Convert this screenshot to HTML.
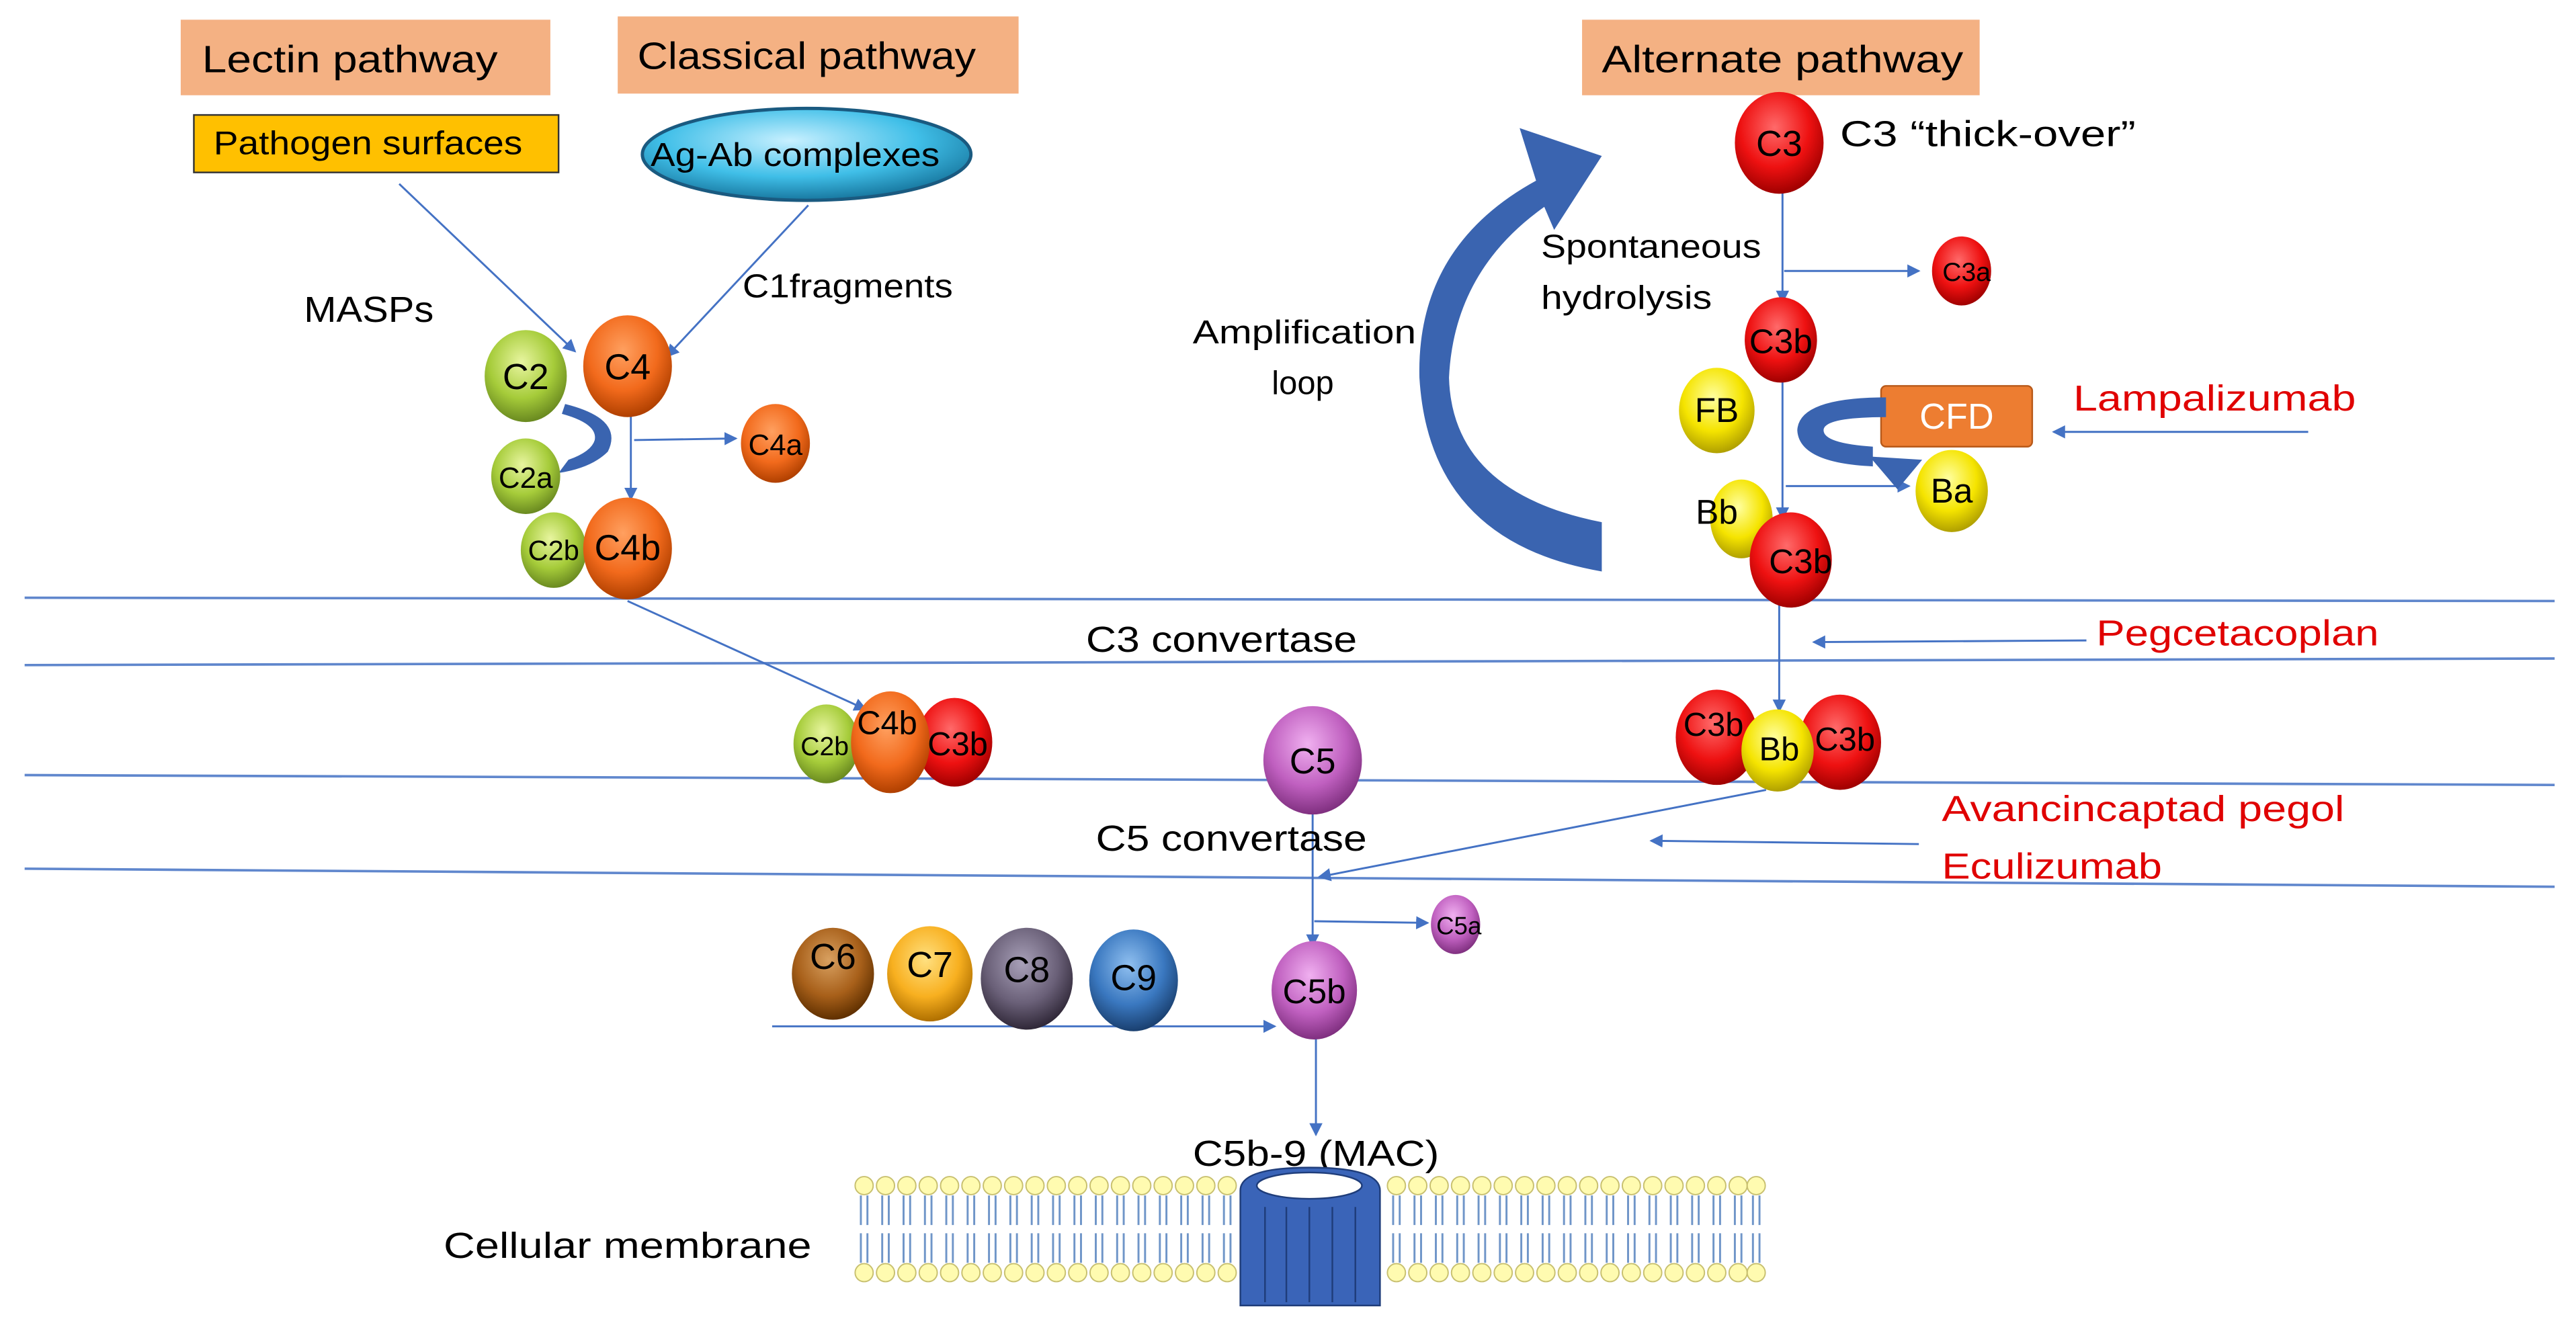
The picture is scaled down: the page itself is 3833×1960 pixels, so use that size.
<!DOCTYPE html>
<html><head><meta charset="utf-8"><style>
html,body{margin:0;padding:0;background:#fff;}
svg{display:block;}
text{font-family:"Liberation Sans Narrow","Liberation Sans",sans-serif;}
</style></head><body>
<svg width="3833" height="1960" viewBox="0 0 1568 802" preserveAspectRatio="none" xmlns="http://www.w3.org/2000/svg">
<defs>
<marker id="ah" markerWidth="8" markerHeight="8" refX="7" refY="4" orient="auto" markerUnits="userSpaceOnUse"><path d="M0,0 L8,4 L0,8 Z" fill="#4472c4"/></marker>
<radialGradient id="gR" cx="45%" cy="35%" r="65%"><stop offset="0" stop-color="#ff6a6a"/><stop offset="0.6" stop-color="#ee1111"/><stop offset="1" stop-color="#a00000"/></radialGradient>
<radialGradient id="gO" cx="45%" cy="35%" r="65%"><stop offset="0" stop-color="#ffa060"/><stop offset="0.6" stop-color="#f26a1c"/><stop offset="1" stop-color="#b04000"/></radialGradient>
<radialGradient id="gG" cx="45%" cy="35%" r="65%"><stop offset="0" stop-color="#e8f5a0"/><stop offset="0.6" stop-color="#a6cc3a"/><stop offset="1" stop-color="#6a8a20"/></radialGradient>
<radialGradient id="gY" cx="45%" cy="35%" r="65%"><stop offset="0" stop-color="#ffffa0"/><stop offset="0.6" stop-color="#f5e400"/><stop offset="1" stop-color="#b0a000"/></radialGradient>
<radialGradient id="gP" cx="45%" cy="35%" r="65%"><stop offset="0" stop-color="#f0b0f0"/><stop offset="0.6" stop-color="#c060c0"/><stop offset="1" stop-color="#803080"/></radialGradient>
<radialGradient id="gBr" cx="45%" cy="35%" r="65%"><stop offset="0" stop-color="#d8a060"/><stop offset="0.6" stop-color="#a8601a"/><stop offset="1" stop-color="#603000"/></radialGradient>
<radialGradient id="gOY" cx="45%" cy="35%" r="65%"><stop offset="0" stop-color="#ffe080"/><stop offset="0.6" stop-color="#f8b020"/><stop offset="1" stop-color="#b07000"/></radialGradient>
<radialGradient id="gGr" cx="45%" cy="35%" r="65%"><stop offset="0" stop-color="#a8a0b8"/><stop offset="0.6" stop-color="#6a6078"/><stop offset="1" stop-color="#302838"/></radialGradient>
<radialGradient id="gB" cx="45%" cy="35%" r="65%"><stop offset="0" stop-color="#90c0f0"/><stop offset="0.6" stop-color="#3a78c0"/><stop offset="1" stop-color="#1a4070"/></radialGradient>
<radialGradient id="gC" cx="45%" cy="35%" r="65%"><stop offset="0" stop-color="#c8f0ff"/><stop offset="0.6" stop-color="#40bfe8"/><stop offset="1" stop-color="#1878a0"/></radialGradient>
</defs>

<rect x="110" y="12" width="225" height="46" fill="#f4b183"/>
<text x="123" y="44" font-size="23" textLength="180" lengthAdjust="spacingAndGlyphs">Lectin pathway</text>
<rect x="376" y="10" width="244" height="47" fill="#f4b183"/>
<text x="388" y="42" font-size="23" textLength="206" lengthAdjust="spacingAndGlyphs">Classical pathway</text>
<rect x="963" y="12" width="242" height="46" fill="#f4b183"/>
<text x="975" y="44" font-size="23" textLength="220" lengthAdjust="spacingAndGlyphs">Alternate pathway</text>

<rect x="118" y="70" width="222" height="35" fill="#ffc000" stroke="#333" stroke-width="1"/>
<text x="130" y="94" font-size="20" textLength="188" lengthAdjust="spacingAndGlyphs">Pathogen surfaces</text>
<ellipse cx="491" cy="94" rx="100" ry="28" fill="url(#gC)" stroke="#1a5a80" stroke-width="2"/>
<text x="396" y="101" font-size="20" textLength="176" lengthAdjust="spacingAndGlyphs">Ag-Ab complexes</text>

<g stroke="#4472c4" stroke-width="1.2" fill="none">
<line x1="243" y1="112" x2="350" y2="214" marker-end="url(#ah)"/>
<line x1="492" y1="125" x2="406" y2="217" marker-end="url(#ah)"/>
<line x1="384" y1="248" x2="384" y2="304" marker-end="url(#ah)"/>
<line x1="386" y1="268" x2="448" y2="267" marker-end="url(#ah)"/>
<line x1="382" y1="366" x2="527" y2="432" marker-end="url(#ah)"/>
<line x1="1085" y1="117" x2="1085" y2="184" marker-end="url(#ah)"/>
<line x1="1086" y1="165" x2="1168" y2="165" marker-end="url(#ah)"/>
<line x1="1085" y1="230" x2="1085" y2="316" marker-end="url(#ah)"/>
<line x1="1087" y1="296" x2="1162" y2="296" marker-end="url(#ah)"/>
<line x1="1405" y1="263" x2="1250" y2="263" marker-end="url(#ah)"/>
<line x1="1083" y1="367" x2="1083" y2="433" marker-end="url(#ah)"/>
<line x1="1270" y1="390" x2="1104" y2="391" marker-end="url(#ah)"/>
<line x1="1168" y1="514" x2="1005" y2="512" marker-end="url(#ah)"/>
<line x1="1075" y1="481" x2="803" y2="534" marker-end="url(#ah)"/>
<line x1="799" y1="495" x2="799" y2="576" marker-end="url(#ah)"/>
<line x1="800" y1="561" x2="869" y2="562" marker-end="url(#ah)"/>
<line x1="470" y1="625" x2="776" y2="625" marker-end="url(#ah)"/>
<line x1="801" y1="632" x2="801" y2="691" marker-end="url(#ah)"/>
</g>
<g stroke="#4472c4" stroke-width="1.5" fill="none" opacity="0.85">
<line x1="15" y1="364" x2="1555" y2="366"/>
<line x1="15" y1="405" x2="1555" y2="401"/>
<line x1="15" y1="472" x2="1555" y2="478"/>
<line x1="15" y1="529" x2="1555" y2="540"/>
</g>

<text x="185" y="196" font-size="22" textLength="79" lengthAdjust="spacingAndGlyphs">MASPs</text>
<text x="452" y="181" font-size="20" textLength="128" lengthAdjust="spacingAndGlyphs">C1fragments</text>

<ellipse cx="320" cy="229" rx="25" ry="28" fill="url(#gG)"/>
<text x="320" y="237" font-size="22" text-anchor="middle">C2</text>
<ellipse cx="382" cy="223" rx="27" ry="31" fill="url(#gO)"/>
<text x="382" y="231" font-size="22" text-anchor="middle">C4</text>
<path d="M344,246 Q380,255 370,275 Q360,285 340,288 L346,280 Q360,275 362,268 Q364,258 342,252 Z" fill="#3a64b0"/>
<ellipse cx="320" cy="290" rx="21" ry="23" fill="url(#gG)"/>
<text x="320" y="297" font-size="18" text-anchor="middle">C2a</text>
<ellipse cx="472" cy="270" rx="21" ry="24" fill="url(#gO)"/>
<text x="472" y="277" font-size="18" text-anchor="middle">C4a</text>
<ellipse cx="337" cy="335" rx="20" ry="23" fill="url(#gG)"/>
<ellipse cx="382" cy="334" rx="27" ry="31" fill="url(#gO)"/>
<text x="337" y="341" font-size="17" text-anchor="middle">C2b</text>
<text x="382" y="341" font-size="22" text-anchor="middle">C4b</text>

<text x="661" y="397" font-size="22" textLength="165" lengthAdjust="spacingAndGlyphs">C3 convertase</text>
<text x="667" y="518" font-size="22" textLength="165" lengthAdjust="spacingAndGlyphs">C5 convertase</text>

<ellipse cx="503" cy="453" rx="20" ry="24" fill="url(#gG)"/>
<ellipse cx="581" cy="452" rx="23" ry="27" fill="url(#gR)"/>
<ellipse cx="542" cy="452" rx="24" ry="31" fill="url(#gO)"/>
<text x="502" y="460" font-size="16" text-anchor="middle">C2b</text>
<text x="540" y="447" font-size="20" text-anchor="middle">C4b</text>
<text x="583" y="460" font-size="20" text-anchor="middle">C3b</text>

<ellipse cx="799" cy="463" rx="30" ry="33" fill="url(#gP)"/>
<text x="799" y="471" font-size="22" text-anchor="middle">C5</text>

<ellipse cx="1045" cy="449" rx="25" ry="29" fill="url(#gR)"/>
<ellipse cx="1120" cy="452" rx="25" ry="29" fill="url(#gR)"/>
<ellipse cx="1082" cy="457" rx="22" ry="25" fill="url(#gY)"/>
<text x="1043" y="448" font-size="20" text-anchor="middle">C3b</text>
<text x="1083" y="463" font-size="20" text-anchor="middle">Bb</text>
<text x="1123" y="457" font-size="20" text-anchor="middle">C3b</text>

<text x="1276" y="393" font-size="22" fill="#e00000" textLength="172" lengthAdjust="spacingAndGlyphs">Pegcetacoplan</text>
<text x="1182" y="500" font-size="22" fill="#e00000" textLength="245" lengthAdjust="spacingAndGlyphs">Avancincaptad pegol</text>
<text x="1182" y="535" font-size="22" fill="#e00000" textLength="134" lengthAdjust="spacingAndGlyphs">Eculizumab</text>

<ellipse cx="886" cy="563" rx="15" ry="18" fill="url(#gP)"/>
<text x="888" y="569" font-size="15" text-anchor="middle">C5a</text>
<ellipse cx="800" cy="603" rx="26" ry="30" fill="url(#gP)"/>
<text x="800" y="611" font-size="21" text-anchor="middle">C5b</text>

<ellipse cx="507" cy="593" rx="25" ry="28" fill="url(#gBr)"/>
<text x="507" y="590" font-size="22" text-anchor="middle">C6</text>
<ellipse cx="566" cy="593" rx="26" ry="29" fill="url(#gOY)"/>
<text x="566" y="595" font-size="22" text-anchor="middle">C7</text>
<ellipse cx="625" cy="596" rx="28" ry="31" fill="url(#gGr)"/>
<text x="625" y="598" font-size="22" text-anchor="middle">C8</text>
<ellipse cx="690" cy="597" rx="27" ry="31" fill="url(#gB)"/>
<text x="690" y="603" font-size="22" text-anchor="middle">C9</text>

<text x="726" y="710" font-size="22" textLength="150" lengthAdjust="spacingAndGlyphs">C5b-9 (MAC)</text>
<text x="270" y="766" font-size="22" textLength="224" lengthAdjust="spacingAndGlyphs">Cellular membrane</text>

<g>
<g fill="#fffbb0" stroke="#c8c070" stroke-width="0.8">
<circle cx="526" cy="722" r="5.5"/><circle cx="539" cy="722" r="5.5"/><circle cx="552" cy="722" r="5.5"/><circle cx="565" cy="722" r="5.5"/><circle cx="578" cy="722" r="5.5"/><circle cx="591" cy="722" r="5.5"/><circle cx="604" cy="722" r="5.5"/><circle cx="617" cy="722" r="5.5"/><circle cx="630" cy="722" r="5.5"/><circle cx="643" cy="722" r="5.5"/><circle cx="656" cy="722" r="5.5"/><circle cx="669" cy="722" r="5.5"/><circle cx="682" cy="722" r="5.5"/><circle cx="695" cy="722" r="5.5"/><circle cx="708" cy="722" r="5.5"/><circle cx="721" cy="722" r="5.5"/><circle cx="734" cy="722" r="5.5"/><circle cx="747" cy="722" r="5.5"/>
<circle cx="850" cy="722" r="5.5"/><circle cx="863" cy="722" r="5.5"/><circle cx="876" cy="722" r="5.5"/><circle cx="889" cy="722" r="5.5"/><circle cx="902" cy="722" r="5.5"/><circle cx="915" cy="722" r="5.5"/><circle cx="928" cy="722" r="5.5"/><circle cx="941" cy="722" r="5.5"/><circle cx="954" cy="722" r="5.5"/><circle cx="967" cy="722" r="5.5"/><circle cx="980" cy="722" r="5.5"/><circle cx="993" cy="722" r="5.5"/><circle cx="1006" cy="722" r="5.5"/><circle cx="1019" cy="722" r="5.5"/><circle cx="1032" cy="722" r="5.5"/><circle cx="1045" cy="722" r="5.5"/><circle cx="1058" cy="722" r="5.5"/><circle cx="1069" cy="722" r="5.5"/>
<circle cx="526" cy="775" r="5.5"/><circle cx="539" cy="775" r="5.5"/><circle cx="552" cy="775" r="5.5"/><circle cx="565" cy="775" r="5.5"/><circle cx="578" cy="775" r="5.5"/><circle cx="591" cy="775" r="5.5"/><circle cx="604" cy="775" r="5.5"/><circle cx="617" cy="775" r="5.5"/><circle cx="630" cy="775" r="5.5"/><circle cx="643" cy="775" r="5.5"/><circle cx="656" cy="775" r="5.5"/><circle cx="669" cy="775" r="5.5"/><circle cx="682" cy="775" r="5.5"/><circle cx="695" cy="775" r="5.5"/><circle cx="708" cy="775" r="5.5"/><circle cx="721" cy="775" r="5.5"/><circle cx="734" cy="775" r="5.5"/><circle cx="747" cy="775" r="5.5"/>
<circle cx="850" cy="775" r="5.5"/><circle cx="863" cy="775" r="5.5"/><circle cx="876" cy="775" r="5.5"/><circle cx="889" cy="775" r="5.5"/><circle cx="902" cy="775" r="5.5"/><circle cx="915" cy="775" r="5.5"/><circle cx="928" cy="775" r="5.5"/><circle cx="941" cy="775" r="5.5"/><circle cx="954" cy="775" r="5.5"/><circle cx="967" cy="775" r="5.5"/><circle cx="980" cy="775" r="5.5"/><circle cx="993" cy="775" r="5.5"/><circle cx="1006" cy="775" r="5.5"/><circle cx="1019" cy="775" r="5.5"/><circle cx="1032" cy="775" r="5.5"/><circle cx="1045" cy="775" r="5.5"/><circle cx="1058" cy="775" r="5.5"/><circle cx="1069" cy="775" r="5.5"/>
</g>
<g stroke="#6f95c8" stroke-width="1.2" fill="none">
<path d="M524,728v18M528,728v18M537,728v18M541,728v18M550,728v18M554,728v18M563,728v18M567,728v18M576,728v18M580,728v18M589,728v18M593,728v18M602,728v18M606,728v18M615,728v18M619,728v18M628,728v18M632,728v18M641,728v18M645,728v18M654,728v18M658,728v18M667,728v18M671,728v18M680,728v18M684,728v18M693,728v18M697,728v18M706,728v18M710,728v18M719,728v18M723,728v18M732,728v18M736,728v18M745,728v18M749,728v18"/>
<path d="M524,751v18M528,751v18M537,751v18M541,751v18M550,751v18M554,751v18M563,751v18M567,751v18M576,751v18M580,751v18M589,751v18M593,751v18M602,751v18M606,751v18M615,751v18M619,751v18M628,751v18M632,751v18M641,751v18M645,751v18M654,751v18M658,751v18M667,751v18M671,751v18M680,751v18M684,751v18M693,751v18M697,751v18M706,751v18M710,751v18M719,751v18M723,751v18M732,751v18M736,751v18M745,751v18M749,751v18"/>
<path d="M848,728v18M852,728v18M861,728v18M865,728v18M874,728v18M878,728v18M887,728v18M891,728v18M900,728v18M904,728v18M913,728v18M917,728v18M926,728v18M930,728v18M939,728v18M943,728v18M952,728v18M956,728v18M965,728v18M969,728v18M978,728v18M982,728v18M991,728v18M995,728v18M1004,728v18M1008,728v18M1017,728v18M1021,728v18M1030,728v18M1034,728v18M1043,728v18M1047,728v18M1056,728v18M1060,728v18M1067,728v18M1071,728v18"/>
<path d="M848,751v18M852,751v18M861,751v18M865,751v18M874,751v18M878,751v18M887,751v18M891,751v18M900,751v18M904,751v18M913,751v18M917,751v18M926,751v18M930,751v18M939,751v18M943,751v18M952,751v18M956,751v18M965,751v18M969,751v18M978,751v18M982,751v18M991,751v18M995,751v18M1004,751v18M1008,751v18M1017,751v18M1021,751v18M1030,751v18M1034,751v18M1043,751v18M1047,751v18M1056,751v18M1060,751v18M1067,751v18M1071,751v18"/>
</g>
</g>
<path d="M755,725 Q755,711 797,711 Q840,711 840,725 L840,795 L755,795 Z" fill="#3a64b8" stroke="#1f3d7a" stroke-width="1"/>
<ellipse cx="797" cy="722" rx="32" ry="8" fill="#fff" stroke="#1f3d7a"/>
<g stroke="#1f3d7a" stroke-width="1" fill="none"><path d="M770,735v58M783,735v58M797,735v58M811,735v58M825,735v58"/></g>

<ellipse cx="1083" cy="87" rx="27" ry="31" fill="url(#gR)"/>
<text x="1083" y="95" font-size="22" text-anchor="middle">C3</text>
<text x="1120" y="89" font-size="22" textLength="180" lengthAdjust="spacingAndGlyphs">C3 “thick-over”</text>
<text x="938" y="157" font-size="20" textLength="134" lengthAdjust="spacingAndGlyphs">Spontaneous</text>
<text x="938" y="188" font-size="20" textLength="104" lengthAdjust="spacingAndGlyphs">hydrolysis</text>
<ellipse cx="1194" cy="165" rx="18" ry="21" fill="url(#gR)"/>
<text x="1197" y="171" font-size="16" text-anchor="middle">C3a</text>
<ellipse cx="1084" cy="207" rx="22" ry="26" fill="url(#gR)"/>
<text x="1084" y="215" font-size="21" text-anchor="middle">C3b</text>
<ellipse cx="1045" cy="250" rx="23" ry="26" fill="url(#gY)"/>
<text x="1045" y="257" font-size="21" text-anchor="middle">FB</text>
<rect x="1145" y="235" width="92" height="37" rx="3" fill="#ed7d31" stroke="#b85a1a"/>
<text x="1191" y="261" font-size="22" fill="#fff" text-anchor="middle">CFD</text>
<path d="M1148,242 Q1095,242 1094,262 Q1095,282 1140,284 L1140,272 Q1110,270 1110,262 Q1110,254 1148,254 Z" fill="#3a64b0"/>
<path d="M1138,278 L1170,280 L1155,298 Z" fill="#3a64b0"/>
<ellipse cx="1188" cy="299" rx="22" ry="25" fill="url(#gY)"/>
<text x="1188" y="306" font-size="21" text-anchor="middle">Ba</text>
<text x="1262" y="250" font-size="22" fill="#e00000" textLength="172" lengthAdjust="spacingAndGlyphs">Lampalizumab</text>
<ellipse cx="1060" cy="316" rx="19" ry="24" fill="url(#gY)"/>
<text x="1045" y="319" font-size="21" text-anchor="middle">Bb</text>
<ellipse cx="1090" cy="341" rx="25" ry="29" fill="url(#gR)"/>
<text x="1096" y="349" font-size="21" text-anchor="middle">C3b</text>

<path d="M975,348 Q870,330 864,230 Q862,150 935,110 L925,78 L975,95 L946,140 L940,126 Q885,165 882,230 Q884,300 975,318 Z" fill="#3a64b0"/>
<text x="726" y="209" font-size="20" textLength="136" lengthAdjust="spacingAndGlyphs">Amplification</text>
<text x="793" y="240" font-size="20" text-anchor="middle">loop</text>
</svg>
</body></html>
